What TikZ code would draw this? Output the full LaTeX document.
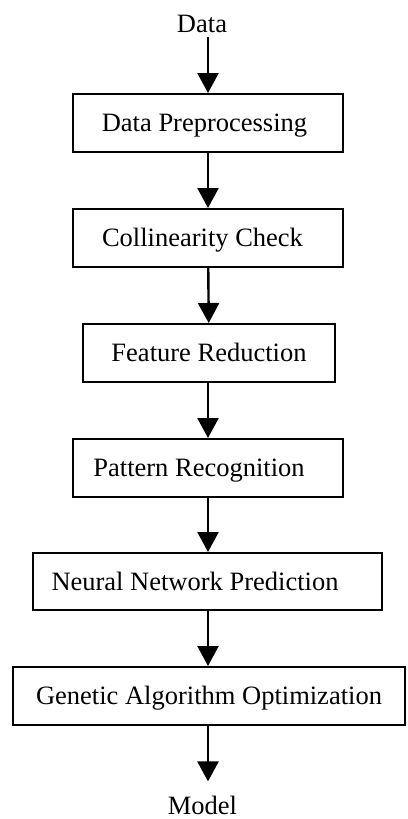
\documentclass[tikz,border=0pt]{standalone}
\usepackage{fontspec}
\setmainfont{Liberation Serif}
\usetikzlibrary{arrows.meta}
% shift the label inside a fixed-size box to the left by half of #1
\newcommand{\leftnudge}[2]{#2\hspace*{#1}}
\begin{document}
\begin{tikzpicture}[x=1pt,y=-1pt,
  font=\fontsize{26.5}{30}\selectfont,
  stagebox/.style={draw, line width=2pt, inner sep=0pt,
    minimum height=58pt, text height=17.5pt, text depth=0pt},
  flow/.style={line width=2.4pt, -{Triangle[length=20pt,width=21pt]}},
  endlabel/.style={inner sep=0pt, anchor=base}]
\useasboundingbox (0,0) rectangle (407,819);

\node[endlabel] (data) at (202,32) {Data};

\node[stagebox, minimum width=270pt] (b1) at (208,123) {\leftnudge{7pt}{Data Preprocessing}};
\node[stagebox, minimum width=270pt] (b2) at (208,238) {\leftnudge{11pt}{Collinearity Check}};
\node[stagebox, minimum width=252pt] (b3) at (209,353) {Feature Reduction};
\node[stagebox, minimum width=270pt] (b4) at (208,468) {\leftnudge{18pt}{Pattern Recognition}};
\node[stagebox, minimum width=349pt, minimum height=57pt] (b5) at (207.5,581.5) {\leftnudge{25pt}{Neural Network Prediction}};
\node[stagebox, minimum width=392pt] (b6) at (209,696) {Genetic Algorithm Optimization};

\node[endlabel] (model) at (202.5,814) {Model};

\draw[flow, shorten <=5pt] (b1.north |- data.south) -- (b1.north);
\draw[flow] (b1) -- (b2);
\draw[flow] (b2) -- (b3);
\draw[flow] (b3.south -| b1.south) -- (b4.north);
\draw[flow] (b4) -- (b5.north -| b4.south);
\draw[flow] (b5.south -| b4.south) -- (b6.north -| b4.south);
\draw[flow, shorten >=14pt] (b6.south -| b4.south) -- (b4.south |- model.north);
\end{tikzpicture}
\end{document}
